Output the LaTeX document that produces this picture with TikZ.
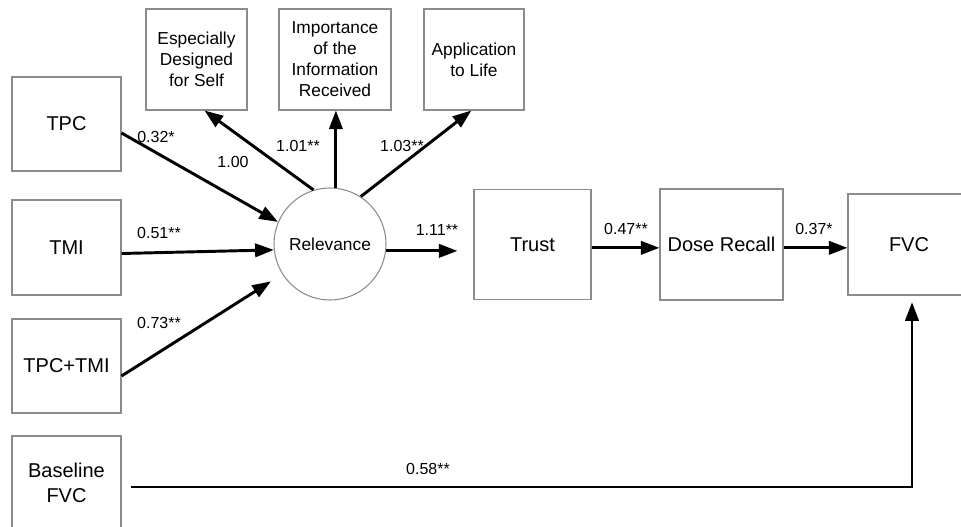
\documentclass[tikz,border=0pt]{standalone}
\usepackage{fontspec}
\setmainfont{Liberation Sans}
\usetikzlibrary{arrows.meta}
\begin{document}
\begin{tikzpicture}[x=0.75pt,y=-0.75pt,
  box/.style={draw=black!45, line width=0.8pt, inner sep=1pt, align=center, font=\fontsize{15}{19}\selectfont},
  ind/.style={box, minimum height=75.75pt, font=\fontsize{13}{15.75}\selectfont},
  link/.style={line width=2.2pt, -{Triangle[length=14pt,width=10pt]}},
  lab/.style={inner sep=0pt, font=\fontsize{12}{14}\selectfont}]
\clip (0,0) rectangle (961,527);
\fill[white] (0,0) rectangle (961,527);
% indicators of relevance
\node[ind, minimum width=75.75pt] (esp) at (196.5,59.5) {Especially\\Designed\\for Self};
\node[ind, minimum width=84pt] (imp) at (335,59.5) {Importance\\of the\\Information\\Received};
\node[ind, minimum width=75pt] (app) at (474,59.5) {Application\\to Life};
% message conditions
\node[box, minimum width=81.75pt, minimum height=70.5pt] (tpc) at (66.5,124) {TPC};
\node[box, minimum width=81.75pt, minimum height=71.25pt] (tmi) at (66.5,247.5) {TMI};
\node[box, minimum width=81.75pt, minimum height=70.5pt] (tpctmi) at (66.5,366) {TPC+TMI};
\node[box, minimum width=81.75pt, minimum height=70.5pt] (base) at (66.5,483) {Baseline\\FVC};
% latent variable and outcomes
\node[circle, draw=black!45, line width=0.8pt, minimum size=84pt, inner sep=0pt, font=\fontsize{13}{15}\selectfont] (rel) at (330,244) {Relevance};
\node[box, minimum width=87.75pt, minimum height=82.5pt] (trust) at (532.5,244.5) {Trust};
\node[box, minimum width=92.25pt, minimum height=83.25pt] (dose) at (721.5,244.5) {Dose Recall};
\node[box, minimum width=91.5pt, minimum height=75.75pt] (fvc) at (909,244.5) {FVC};
% paths
\draw[link] ([yshift=-6.75pt]tpc.east) -- (rel.157);
\draw[link] ([yshift=-4.5pt]tmi.east) -- (rel.186);
\draw[link, shorten >=10pt] ([yshift=-7.5pt]tpctmi.east) -- (rel);
\draw[link] (rel.107) -- ([xshift=6pt]esp.south);
\draw[link] (rel.84) -- (rel.84 |- imp.south);
\draw[link] (rel.57) -- ([xshift=-2pt]app.south);
\draw[link, shorten >=12pt] (rel.353) -- (rel.353 -| trust.west);
\draw[link] ([yshift=-2.5pt]trust.east) -- ([yshift=-2.5pt]dose.west);
\draw[link] ([yshift=-2.5pt]dose.east) -- ([yshift=-2.5pt]fvc.west);
\draw[link, shorten <=6.75pt, shorten >=5pt] ([yshift=-3pt]base.east) -| ([xshift=2.25pt]fvc.south);
% coefficients
\node[lab] (l32) at (156,137) {0.32*};
\node[lab] (l100) at (233,162) {1.00};
\node[lab] (l101) at (298,146) {1.01**};
\node[lab] (l103) at (402,146) {1.03**};
\node[lab] (l51) at (159,233) {0.51**};
\node[lab] (l73) at (159,323) {0.73**};
\node[lab] (l111) at (437,230) {1.11**};
\node[lab] (l47) at (626,229) {0.47**};
\node[lab] (l37) at (814,229) {0.37*};
\node[lab] (l58) at (428,469) {0.58**};
\end{tikzpicture}
\end{document}
